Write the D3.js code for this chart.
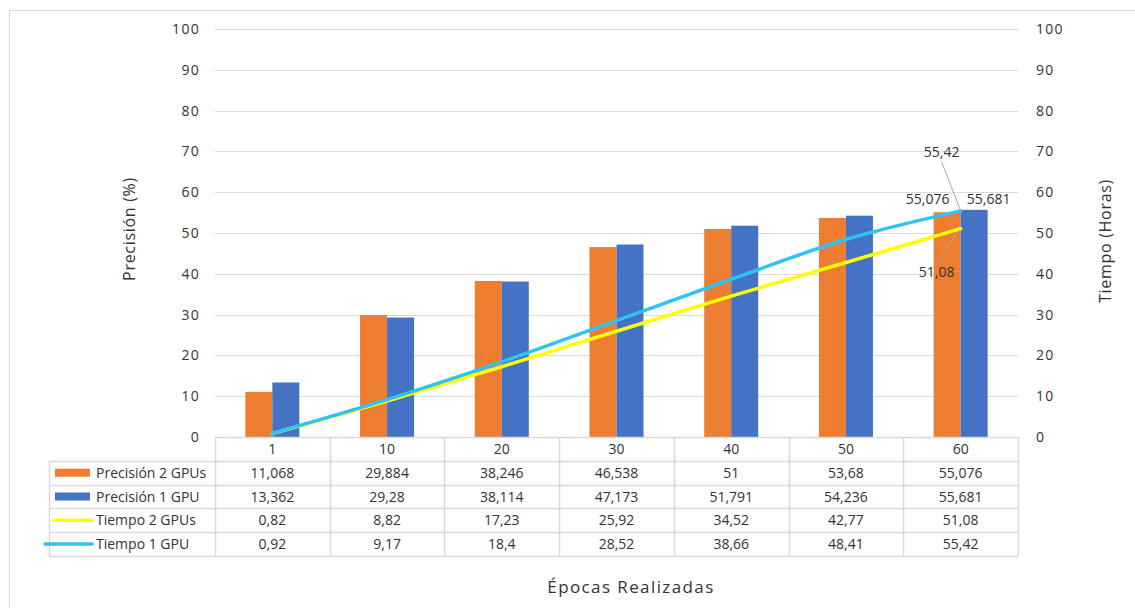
<!DOCTYPE html>
<html>
<head>
<meta charset="utf-8">
<script src="https://cdn.jsdelivr.net/npm/d3@7"></script>
<style>
  html, body { margin: 0; padding: 0; background: #fff; }
  svg { display: block; font-family: "Open Sans", "Noto Sans", sans-serif; }
</style>
</head>
<body>
<svg id="chart" width="1135" height="608"></svg>
<script>
// Epochs run (x categories)
const categories = ["1", "10", "20", "30", "40", "50", "60"];
// Accuracy (%) — left axis
const precision2GPUs = [11.068, 29.884, 38.246, 46.538, 51, 53.68, 55.076];
const precision1GPU  = [13.362, 29.28, 38.114, 47.173, 51.791, 54.236, 55.681];
// Training time (hours) — right axis
const time2GPUs = [0.82, 8.82, 17.23, 25.92, 34.52, 42.77, 51.08];
const time1GPU  = [0.92, 9.17, 18.4, 28.52, 38.66, 48.41, 55.42];
// Axis ticks
const leftTicks  = [0, 10, 20, 30, 40, 50, 60, 70, 80, 90, 100];
const rightTicks = [0, 10, 20, 30, 40, 50, 60, 70, 80, 90, 100];

const series = [
  { name: "Precisión 2 GPUs", values: precision2GPUs, type: "bar",  color: "#ED7D31" },
  { name: "Precisión 1 GPU",  values: precision1GPU,  type: "bar",  color: "#4472C4" },
  { name: "Tiempo 2 GPUs",    values: time2GPUs,      type: "line", color: "#FFFF00" },
  { name: "Tiempo 1 GPU",     values: time1GPU,       type: "line", color: "#2EC4F5" }
];

const fmt = v => String(v).replace(".", ",");

const svg = d3.select("#chart");
const plot = { left: 215, right: 1018, top: 29, bottom: 437 };
const gridColor = "#d9d9d9";
const textColor = "#333333";

// chart frame
svg.append("rect")
  .attr("x", 9.5).attr("y", 10.5)
  .attr("width", 1140).attr("height", 620)
  .attr("fill", "#fff").attr("stroke", gridColor);

const x = d3.scaleBand().domain(categories).range([plot.left, plot.right]);
const yL = d3.scaleLinear().domain([0, 100]).range([plot.bottom, plot.top]);
const yR = d3.scaleLinear().domain([0, 100]).range([plot.bottom, plot.top]);

// gridlines
svg.append("g").selectAll("line")
  .data(leftTicks.filter(t => t > 0))
  .join("line")
  .attr("x1", plot.left).attr("x2", plot.right)
  .attr("y1", d => Math.round(yL(d)) + 0.5).attr("y2", d => Math.round(yL(d)) + 0.5)
  .attr("stroke", gridColor).attr("stroke-width", 1);

// left axis
const leftAxis = svg.append("g")
  .attr("transform", `translate(${plot.left - 15},0)`)
  .call(d3.axisLeft(yL).tickValues(leftTicks).tickSize(0).tickPadding(0));
leftAxis.select(".domain").remove();
leftAxis.selectAll("text")
  .attr("font-size", 14).attr("fill", textColor).attr("letter-spacing", 1.3)
  .attr("font-family", "'Open Sans', sans-serif");

// right axis
const rightAxis = svg.append("g")
  .attr("transform", `translate(${plot.right + 18},0)`)
  .call(d3.axisRight(yR).tickValues(rightTicks).tickSize(0).tickPadding(0));
rightAxis.select(".domain").remove();
rightAxis.selectAll("text")
  .attr("font-size", 14).attr("fill", textColor).attr("letter-spacing", 1.3)
  .attr("font-family", "'Open Sans', sans-serif");

// axis titles
svg.append("text")
  .attr("transform", `translate(135,229) rotate(-90)`)
  .attr("text-anchor", "middle").attr("font-size", 16).attr("letter-spacing", 0.7).attr("fill", textColor)
  .text("Precisión (%)");
svg.append("text")
  .attr("transform", `translate(1111,241) rotate(-90)`)
  .attr("text-anchor", "middle").attr("font-size", 16).attr("letter-spacing", 0.7).attr("fill", textColor)
  .text("Tiempo (Horas)");
svg.append("text")
  .attr("x", 631).attr("y", 593)
  .attr("text-anchor", "middle").attr("font-size", 17).attr("letter-spacing", 1.4).attr("fill", textColor)
  .text("Épocas Realizadas");

// grouped bars
const barSeries = series.filter(s => s.type === "bar");
const groupW = 54;
const xs = d3.scaleBand().domain(barSeries.map(s => s.name)).range([0, groupW]);
barSeries.forEach(s => {
  svg.append("g").selectAll("rect")
    .data(s.values.map((v, i) => ({ v, c: categories[i] })))
    .join("rect")
    .attr("x", d => x(d.c) + x.bandwidth() / 2 - groupW / 2 + xs(s.name))
    .attr("width", xs.bandwidth())
    .attr("y", d => yL(d.v))
    .attr("height", d => yL(0) - yL(d.v))
    .attr("fill", s.color);
});

// time lines (smoothed)
const line = d3.line()
  .x((d, i) => x(categories[i]) + x.bandwidth() / 2)
  .y(d => yR(d))
  .curve(d3.curveCardinal.tension(0));
series.filter(s => s.type === "line").forEach(s => {
  svg.append("path")
    .datum(s.values)
    .attr("d", line)
    .attr("fill", "none")
    .attr("stroke", s.color)
    .attr("stroke-width", 3.5)
    .attr("stroke-linecap", "round");
});

// data labels on the last epoch
const last = categories.length - 1;
const cx = x(categories[last]) + x.bandwidth() / 2;
const labelG = svg.append("g").attr("font-size", 14).attr("fill", textColor).attr("text-anchor", "middle");
// bar labels
labelG.append("text").attr("x", cx - 33).attr("y", yL(precision2GPUs[last]) - 8).text(fmt(precision2GPUs[last]));
labelG.append("text").attr("x", cx + 28).attr("y", yL(precision1GPU[last]) - 6).text(fmt(precision1GPU[last]));
// line labels with leader lines
const t1y = yR(time1GPU[last]);
const t2y = yR(time2GPUs[last]);
svg.append("line").attr("x1", cx).attr("y1", t1y).attr("x2", cx - 19).attr("y2", t1y - 49)
  .attr("stroke", "#a6a6a6").attr("stroke-width", 1);
svg.append("line").attr("x1", cx).attr("y1", t2y).attr("x2", cx - 23).attr("y2", t2y + 31)
  .attr("stroke", "#a6a6a6").attr("stroke-width", 1);
labelG.append("text").attr("x", cx - 19).attr("y", t1y - 54).text(fmt(time1GPU[last]));
labelG.append("text").attr("x", cx - 24).attr("y", t2y + 48.5).text(fmt(time2GPUs[last]));

// data table under the plot
const rowH = 23.8;
const tableTop = plot.bottom;
const legendLeft = 49;
const tg = svg.append("g");
const rows = series.length;
const bottomY = tableTop + rowH * (rows + 1);

// horizontal rules
tg.append("line").attr("x1", plot.left).attr("x2", plot.right)
  .attr("y1", tableTop + 0.5).attr("y2", tableTop + 0.5).attr("stroke", gridColor).attr("stroke-width", 1.5);
d3.range(1, rows + 2).forEach(r => {
  const yy = Math.round(tableTop + rowH * r) + 0.5;
  tg.append("line").attr("x1", legendLeft).attr("x2", plot.right)
    .attr("y1", yy).attr("y2", yy).attr("stroke", gridColor).attr("stroke-width", 1.5);
});
// vertical rules
const vx = categories.map(c => x(c)).concat([plot.right]);
vx.forEach(v => {
  tg.append("line").attr("x1", Math.round(v) + 0.5).attr("x2", Math.round(v) + 0.5)
    .attr("y1", tableTop).attr("y2", Math.round(bottomY) + 0.5).attr("stroke", gridColor).attr("stroke-width", 1.5);
});
tg.append("line").attr("x1", legendLeft + 0.5).attr("x2", legendLeft + 0.5)
  .attr("y1", Math.round(tableTop + rowH) + 0.5).attr("y2", Math.round(bottomY) + 0.5)
  .attr("stroke", gridColor).attr("stroke-width", 1.5);

// header row: categories
tg.selectAll("text.cat").data(categories).join("text")
  .attr("class", "cat")
  .attr("x", d => x(d) + x.bandwidth() / 2)
  .attr("y", tableTop + rowH / 2 + 5)
  .attr("text-anchor", "middle").attr("font-size", 14).attr("fill", textColor)
  .text(d => d);

// series rows
series.forEach((s, r) => {
  const cy = tableTop + rowH * (r + 1) + rowH / 2;
  if (s.type === "bar") {
    tg.append("rect").attr("x", 55).attr("y", cy - 4).attr("width", 35).attr("height", 8).attr("fill", s.color);
  } else {
    tg.append("line").attr("x1", r === 3 ? 45 : 54).attr("x2", 92)
      .attr("y1", cy).attr("y2", cy).attr("stroke", s.color).attr("stroke-width", 3.5).attr("stroke-linecap", "round");
  }
  tg.append("text").attr("x", 96).attr("y", cy + 5)
    .attr("font-size", 14).attr("fill", textColor).text(s.name);
  tg.selectAll(null).data(s.values).join("text")
    .attr("x", (d, i) => x(categories[i]) + x.bandwidth() / 2)
    .attr("y", cy + 5)
    .attr("text-anchor", "middle").attr("font-size", 14).attr("fill", textColor)
    .text(d => fmt(d));
});
</script>
</body>
</html>
